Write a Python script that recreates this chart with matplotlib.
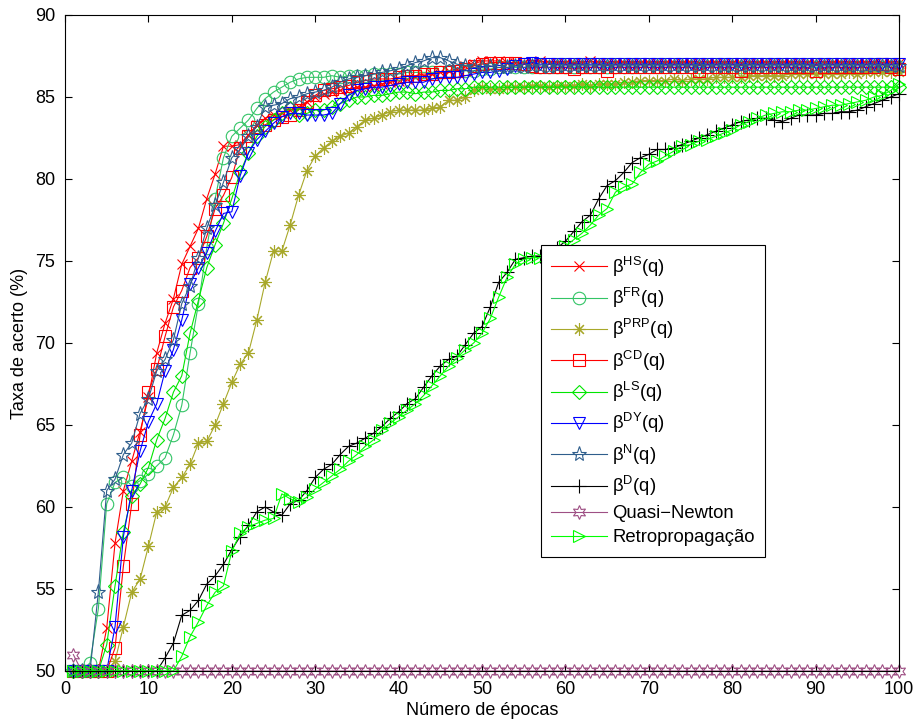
"""Taxa de acerto por numero de epocas (varios metodos de treino)."""

import numpy as np
import matplotlib

matplotlib.use("Agg")
from matplotlib import pyplot as plt

plt.rcParams["font.family"] = ["Liberation Sans", "DejaVu Sans"]
plt.rcParams["mathtext.fontset"] = "custom"
plt.rcParams["mathtext.rm"] = "Liberation Sans"
plt.rcParams["mathtext.it"] = "Liberation Sans:italic"

# =========================================================================
# Dados
# =========================================================================

epochs = np.arange(1, 101)

hs = [
    50.0, 50.0, 50.0, 50.0, 52.6, 57.8, 61.0, 62.8, 64.6, 66.7,
    69.4, 71.2, 72.7, 74.8, 75.9, 77.0, 78.8, 80.3, 82.0, 82.0,
    82.1, 82.7, 83.3, 83.7, 83.9, 84.0, 84.2, 84.4, 84.7, 85.0,
    85.2, 85.3, 85.4, 85.5, 85.6, 85.6, 85.7, 85.8, 85.9, 86.0,
    86.1, 86.2, 86.3, 86.4, 86.5, 86.6, 86.7, 86.9, 87.0, 87.2,
    87.2, 87.2, 87.1, 87.1, 87.1, 87.1, 87.2, 87.1, 87.1, 87.1,
    87.1, 87.1, 87.2, 87.1, 87.1, 87.1, 87.1, 87.1, 87.1, 87.1,
    87.1, 87.1, 87.1, 87.1, 87.1, 87.1, 87.1, 87.1, 87.1, 87.1,
    87.1, 87.1, 87.1, 87.1, 87.1, 87.1, 87.1, 87.1, 87.1, 87.1,
    87.1, 87.1, 87.1, 87.1, 87.1, 87.1, 87.1, 87.1, 87.1, 87.1,
]

fr = [
    50.0, 50.0, 50.5, 53.8, 60.2, 61.5, 61.8, 61.3, 61.6, 62.0,
    62.5, 63.0, 64.4, 66.2, 69.4, 72.4, 75.8, 78.8, 81.3, 82.6,
    83.1, 83.6, 84.3, 84.9, 85.3, 85.6, 85.9, 86.1, 86.2, 86.2,
    86.2, 86.3, 86.2, 86.3, 86.3, 86.3, 86.4, 86.4, 86.4, 86.4,
    86.5, 86.5, 86.5, 86.5, 86.5, 86.6, 86.6, 86.6, 86.6, 86.7,
    86.7, 86.8, 86.8, 86.8, 86.8, 86.8, 86.8, 86.8, 86.8, 86.8,
    86.8, 86.8, 86.8, 86.8, 86.8, 86.8, 86.8, 86.8, 86.8, 86.8,
    86.8, 86.8, 86.8, 86.8, 86.8, 86.8, 86.8, 86.8, 86.8, 86.8,
    86.8, 86.8, 86.8, 86.8, 86.8, 86.8, 86.8, 86.8, 86.8, 86.8,
    86.8, 86.8, 86.8, 86.8, 86.8, 86.8, 86.8, 86.8, 86.8, 86.8,
]

prp = [
    50.0, 50.0, 50.0, 50.0, 50.0, 50.6, 52.7, 54.8, 55.6, 57.6,
    59.7, 60.0, 61.2, 61.8, 62.6, 63.9, 64.0, 65.0, 66.3, 67.6,
    68.7, 69.4, 71.4, 73.7, 75.6, 75.6, 77.2, 79.0, 80.5, 81.4,
    81.9, 82.3, 82.6, 82.8, 83.2, 83.6, 83.7, 83.9, 84.1, 84.2,
    84.2, 84.2, 84.2, 84.3, 84.4, 84.8, 84.8, 85.0, 85.4, 85.6,
    85.5, 85.5, 85.6, 85.6, 85.6, 85.7, 85.7, 85.6, 85.7, 85.7,
    85.7, 85.8, 85.7, 85.8, 85.8, 85.8, 85.9, 85.9, 86.0, 86.0,
    86.0, 86.0, 86.1, 86.0, 86.1, 86.1, 86.1, 86.2, 86.2, 86.2,
    86.2, 86.3, 86.3, 86.3, 86.3, 86.3, 86.4, 86.4, 86.4, 86.4,
    86.4, 86.4, 86.4, 86.5, 86.4, 86.5, 86.5, 86.5, 86.5, 86.5,
]

cd = [
    50.0, 50.0, 50.0, 50.0, 50.0, 51.4, 56.4, 60.2, 64.4, 67.0,
    68.4, 70.4, 72.2, 73.2, 74.6, 75.2, 76.5, 78.2, 79.0, 80.1,
    81.9, 82.6, 83.2, 83.3, 83.6, 83.8, 83.9, 84.2, 84.7, 85.1,
    85.4, 85.5, 85.6, 85.7, 85.9, 86.0, 86.1, 86.1, 86.1, 86.2,
    86.3, 86.3, 86.4, 86.4, 86.5, 86.5, 86.6, 86.7, 86.9, 87.0,
    87.1, 87.1, 87.1, 87.1, 87.0, 86.9, 86.8, 86.8, 86.8, 86.8,
    86.7, 86.8, 86.8, 86.8, 86.6, 86.8, 86.8, 86.8, 86.8, 86.8,
    86.8, 86.8, 86.8, 86.8, 86.8, 86.6, 86.8, 86.8, 86.8, 86.8,
    86.6, 86.8, 86.8, 86.8, 86.8, 86.8, 86.8, 86.8, 86.8, 86.6,
    86.8, 86.8, 86.8, 86.8, 86.8, 86.8, 86.8, 87.0, 86.8, 86.7,
]

ls = [
    50.0, 50.0, 50.0, 50.0, 51.6, 55.2, 58.5, 60.7, 61.4, 62.4,
    64.1, 65.4, 67.0, 68.0, 70.6, 72.6, 74.6, 76.0, 77.3, 78.8,
    80.4, 81.6, 82.6, 83.2, 83.6, 84.0, 84.3, 83.9, 84.0, 84.2,
    84.2, 84.4, 84.6, 84.8, 85.0, 85.0, 85.1, 85.1, 85.2, 85.3,
    85.3, 85.2, 85.3, 85.3, 85.4, 85.4, 85.5, 85.5, 85.6, 85.6,
    85.6, 85.6, 85.6, 85.6, 85.6, 85.6, 85.6, 85.6, 85.6, 85.6,
    85.6, 85.6, 85.6, 85.6, 85.6, 85.6, 85.6, 85.6, 85.6, 85.6,
    85.6, 85.6, 85.6, 85.6, 85.6, 85.6, 85.6, 85.6, 85.6, 85.6,
    85.6, 85.6, 85.6, 85.6, 85.6, 85.6, 85.6, 85.6, 85.6, 85.6,
    85.6, 85.6, 85.6, 85.6, 85.6, 85.6, 85.6, 85.6, 85.6, 85.6,
]

dy = [
    50.0, 50.0, 50.0, 50.0, 50.0, 52.7, 58.2, 61.0, 63.4, 65.2,
    66.3, 68.3, 69.6, 71.4, 73.6, 74.6, 75.5, 76.8, 77.9, 78.0,
    80.2, 81.6, 82.4, 82.9, 83.4, 83.8, 84.0, 84.0, 83.9, 83.9,
    83.9, 84.0, 84.6, 85.1, 85.4, 85.5, 85.6, 85.6, 85.7, 85.8,
    85.9, 85.9, 85.9, 86.1, 86.2, 86.2, 86.2, 86.3, 86.4, 86.5,
    86.5, 86.6, 86.7, 86.9, 87.0, 87.1, 87.0, 87.0, 87.0, 87.0,
    87.0, 87.0, 87.0, 87.0, 87.0, 87.0, 87.0, 87.0, 87.0, 87.0,
    87.0, 87.0, 87.0, 87.0, 87.0, 87.0, 87.0, 87.0, 87.0, 87.0,
    87.0, 87.0, 87.0, 87.0, 87.0, 87.0, 87.0, 87.0, 87.0, 87.0,
    87.0, 87.0, 87.0, 87.0, 87.0, 87.0, 87.0, 87.0, 87.0, 87.0,
]

n = [
    50.0, 50.0, 50.0, 54.8, 61.0, 61.7, 63.2, 63.9, 65.7, 66.6,
    68.3, 69.0, 70.2, 72.4, 73.5, 75.2, 77.0, 78.4, 79.8, 81.3,
    81.8, 82.6, 83.2, 84.4, 84.5, 84.6, 84.9, 85.0, 85.2, 85.3,
    85.4, 85.6, 85.9, 86.1, 86.2, 86.3, 86.4, 86.5, 86.6, 86.7,
    86.9, 87.1, 87.2, 87.4, 87.4, 87.2, 87.0, 86.9, 86.8, 86.8,
    86.9, 86.8, 86.8, 86.9, 86.8, 86.9, 86.9, 86.8, 86.9, 86.9,
    86.9, 86.9, 86.9, 86.9, 86.9, 86.9, 86.9, 86.9, 86.9, 86.9,
    86.9, 86.9, 86.9, 86.9, 86.9, 86.9, 86.9, 86.9, 86.9, 86.9,
    86.9, 86.9, 86.9, 86.9, 86.9, 86.9, 86.9, 86.9, 86.9, 86.9,
    86.9, 86.9, 86.9, 86.9, 86.9, 86.9, 86.9, 86.9, 86.9, 86.9,
]

d = [
    50.0, 50.0, 50.0, 50.0, 50.0, 50.0, 50.0, 50.0, 50.0, 50.0,
    50.0, 50.8, 51.7, 53.4, 53.7, 54.3, 55.3, 55.8, 56.5, 57.4,
    58.2, 58.9, 59.7, 60.0, 59.7, 59.5, 60.2, 60.4, 61.0, 61.8,
    62.3, 62.6, 63.2, 63.7, 63.9, 64.2, 64.5, 64.9, 65.4, 65.8,
    66.3, 66.6, 67.3, 68.0, 68.6, 69.0, 69.2, 69.9, 70.6, 71.0,
    72.2, 73.7, 74.3, 75.1, 75.2, 75.3, 75.3, 75.5, 75.8, 76.2,
    76.8, 77.4, 77.8, 78.8, 79.6, 79.9, 80.4, 81.0, 81.3, 81.5,
    81.8, 81.8, 81.9, 82.1, 82.3, 82.5, 82.7, 82.9, 83.1, 83.3,
    83.5, 83.6, 83.7, 83.7, 83.6, 83.5, 83.7, 83.9, 83.9, 83.9,
    84.0, 84.0, 84.1, 84.1, 84.2, 84.4, 84.6, 84.8, 85.0, 85.2,
]

quasi_newton = [
    51.0, 50.0, 50.0, 50.0, 50.0, 50.0, 50.0, 50.0, 50.0, 50.0,
    50.0, 50.0, 50.0, 50.0, 50.0, 50.0, 50.0, 50.0, 50.0, 50.0,
    50.0, 50.0, 50.0, 50.0, 50.0, 50.0, 50.0, 50.0, 50.0, 50.0,
    50.0, 50.0, 50.0, 50.0, 50.0, 50.0, 50.0, 50.0, 50.0, 50.0,
    50.0, 50.0, 50.0, 50.0, 50.0, 50.0, 50.0, 50.0, 50.0, 50.0,
    50.0, 50.0, 50.0, 50.0, 50.0, 50.0, 50.0, 50.0, 50.0, 50.0,
    50.0, 50.0, 50.0, 50.0, 50.0, 50.0, 50.0, 50.0, 50.0, 50.0,
    50.0, 50.0, 50.0, 50.0, 50.0, 50.0, 50.0, 50.0, 50.0, 50.0,
    50.0, 50.0, 50.0, 50.0, 50.0, 50.0, 50.0, 50.0, 50.0, 50.0,
    50.0, 50.0, 50.0, 50.0, 50.0, 50.0, 50.0, 50.0, 50.0, 50.0,
]

retro = [
    50.0, 50.0, 50.0, 50.0, 50.0, 50.0, 50.0, 50.0, 50.0, 50.0,
    50.0, 50.0, 50.0, 50.9, 52.1, 53.0, 54.0, 54.8, 55.2, 57.3,
    58.4, 58.8, 59.0, 59.2, 59.3, 60.8, 60.5, 60.3, 60.6, 61.1,
    61.5, 61.9, 62.3, 62.8, 63.2, 63.7, 64.1, 64.7, 65.1, 65.5,
    65.9, 66.3, 66.8, 67.4, 68.0, 68.6, 69.1, 69.6, 70.0, 70.6,
    71.5, 72.8, 74.0, 74.8, 75.1, 75.2, 75.2, 75.3, 75.5, 75.9,
    76.3, 76.7, 77.2, 77.8, 78.2, 79.2, 79.5, 79.7, 80.4, 80.9,
    81.1, 81.4, 81.7, 82.0, 82.1, 82.3, 82.4, 82.6, 82.8, 83.0,
    83.3, 83.5, 83.7, 83.9, 84.0, 84.1, 84.1, 84.2, 84.2, 84.3,
    84.4, 84.5, 84.5, 84.6, 84.7, 84.8, 85.0, 85.1, 85.4, 85.8,
]

labels = [
    "β$^{\\mathrm{HS}}$(q)", "β$^{\\mathrm{FR}}$(q)", "β$^{\\mathrm{PRP}}$(q)",
    "β$^{\\mathrm{CD}}$(q)", "β$^{\\mathrm{LS}}$(q)", "β$^{\\mathrm{DY}}$(q)",
    "β$^{\\mathrm{N}}$(q)", "β$^{\\mathrm{D}}$(q)", "Quasi\u2212Newton",
    "Retropropagação",
]

# estilo de cada curva: (cor, marcador, tamanho)
styles = [
    ("#FF0000", "x", 7),
    ("#33C466", "o", 9),
    ("#A8A82A", (8, 2, 0), 9),
    ("#FF0000", "s", 8),
    ("#00E600", "D", 7),
    ("#0000FF", "v", 9),
    ("#2F5E8C", "*", 11),
    ("#000000", "+", 10),
    ("#9E4F84", (6, 1, 0), 10),
    ("#00FF00", ">", 9),
]

series = [hs, fr, prp, cd, ls, dy, n, d, quasi_newton, retro]

# =========================================================================
# Grafico
# =========================================================================

fig = plt.figure(figsize=(9.16, 7.23), dpi=100)
ax = fig.add_axes([65 / 916, 52 / 723, 834 / 916, 656 / 723])

for values, label, (color, marker, size) in zip(series, labels, styles):
    ax.plot(
        epochs, values,
        color=color, linewidth=0.8,
        marker=marker, markersize=size,
        markerfacecolor="none", markeredgecolor=color, markeredgewidth=0.8,
        label=label, clip_on=False,
    )

ax.set_xlim(0, 100)
ax.set_ylim(50, 90)
ax.set_xticks(range(0, 101, 10))
ax.set_yticks(range(50, 91, 5))
ax.tick_params(direction="in", top=True, right=True, length=5, width=0.8,
               labelsize=13, pad=7)
for spine in ax.spines.values():
    spine.set_linewidth(0.8)

ax.set_xlabel("Número de épocas", fontsize=13, labelpad=3)
ax.set_ylabel("Taxa de acerto (%)", fontsize=13, labelpad=5)

leg = ax.legend(
    loc="upper left", bbox_to_anchor=(0.571, 0.65), borderaxespad=0,
    fontsize=13.3, handlelength=3.0, handletextpad=0.3, labelspacing=0.39,
    borderpad=0.55, fancybox=False, framealpha=1, edgecolor="black",
)
leg.get_frame().set_linewidth(0.8)

fig.savefig("out.png", dpi=100, facecolor="white")
plt.close(fig)
